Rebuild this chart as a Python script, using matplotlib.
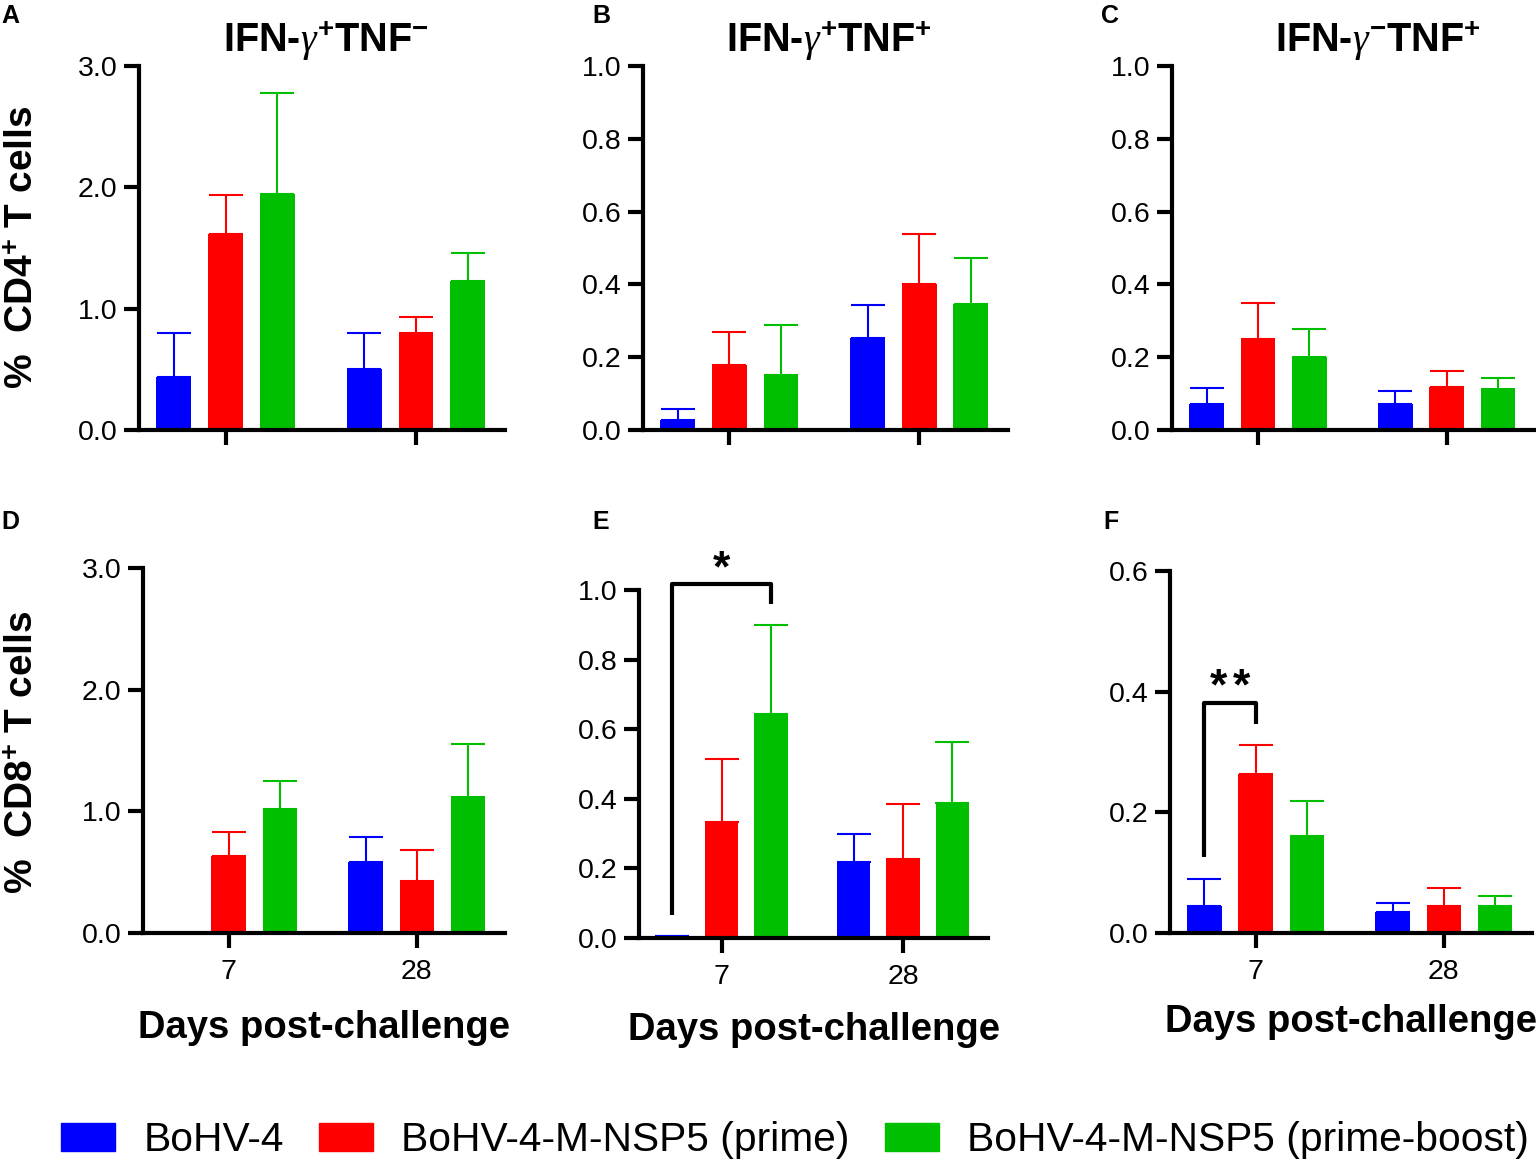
import numpy as np
import matplotlib
matplotlib.use("Agg")
import matplotlib.pyplot as plt
from matplotlib.patches import Patch

plt.rcParams['font.family'] = ['Liberation Sans', 'DejaVu Sans']
plt.rcParams['mathtext.fontset'] = 'custom'
plt.rcParams['mathtext.rm'] = 'Liberation Sans:bold'
plt.rcParams['mathtext.bf'] = 'Liberation Sans:bold'
plt.rcParams['mathtext.it'] = 'Liberation Serif:italic'

## data (rows: BoHV-4, prime, prime-boost ; cols: day 7, day 28)
groups = ["BoHV-4", "BoHV-4-M-NSP5 (prime)", "BoHV-4-M-NSP5 (prime-boost)"]
colors = ["#0000FF", "#FF0000", "#00BF00"]
days = ["7", "28"]

A_mean = [[0.44, 0.50], [1.615, 0.80], [1.945, 1.23]]
A_sem = [[0.36, 0.30], [0.325, 0.13], [0.835, 0.23]]
B_mean = [[0.027, 0.253], [0.179, 0.401], [0.150, 0.346]]
B_sem = [[0.032, 0.091], [0.089, 0.137], [0.138, 0.126]]
C_mean = [[0.071, 0.071], [0.251, 0.119], [0.201, 0.113]]
C_sem = [[0.045, 0.037], [0.099, 0.043], [0.077, 0.031]]
D_mean = [[0.004, 0.58], [0.63, 0.43], [1.023, 1.12]]
D_sem = [[0.0, 0.21], [0.20, 0.256], [0.227, 0.434]]
E_mean = [[0.005, 0.218], [0.333, 0.228], [0.645, 0.387]]
E_sem = [[0.0, 0.082], [0.18, 0.156], [0.255, 0.177]]
F_mean = [[0.044, 0.035], [0.263, 0.044], [0.161, 0.044]]
F_sem = [[0.046, 0.014], [0.049, 0.030], [0.058, 0.018]]

W, H = 1536, 1161
fig = plt.figure(figsize=(W / 100, H / 100), dpi=100)

def add_ax(l, r, b, t):
    return fig.add_axes([l / W, 1 - b / H, (r - l) / W, (b - t) / H])

offset = 0.272
width = 0.183

def bar_panel(ax, means, sems, ymax, ystep, bottom_row, xpad=22):
    x = np.arange(len(days))
    for i in range(len(groups)):
        xs = x + (i - 1) * offset
        ax.bar(xs, means[i], width=width, color=colors[i], zorder=2)
        ax.errorbar(xs, means[i], yerr=[np.zeros(len(days)), sems[i]], fmt='none',
                    ecolor=colors[i], elinewidth=1.5, capsize=12, capthick=1.5, zorder=1)
    ax.set_xlim(-0.455, 1.468)
    ax.set_ylim(0, ymax)
    ticks = np.arange(0, ymax + ystep / 2, ystep)
    ax.set_yticks(ticks)
    ax.set_yticklabels([f"{t:.1f}" for t in ticks])
    ax.set_xticks(x)
    if bottom_row:
        ax.set_xticklabels(days)
        ax.set_xlabel("Days post-challenge", fontsize=27.5, fontweight='bold', labelpad=xpad)
    else:
        ax.set_xticklabels([])
    for s in ["top", "right"]:
        ax.spines[s].set_visible(False)
    for s in ["left", "bottom"]:
        ax.spines[s].set_linewidth(3)
        ax.spines[s].set_zorder(3)
    ax.tick_params(axis='both', width=3, length=10.5, labelsize=20.5, pad=5)
    ax.tick_params(axis='x', pad=8)

axA = add_ax(139, 505, 430, 66)
axB = add_ax(643, 1008, 430, 66)
axC = add_ax(1172, 1535, 430, 66)
axD = add_ax(143, 505, 933, 568)
axE = add_ax(639, 988, 938, 590)
axF = add_ax(1170, 1532, 933, 571)

bar_panel(axA, A_mean, A_sem, 3.0, 1.0, False)
bar_panel(axB, B_mean, B_sem, 1.0, 0.2, False)
bar_panel(axC, C_mean, C_sem, 1.0, 0.2, False)
bar_panel(axD, D_mean, D_sem, 3.0, 1.0, True, 18)
bar_panel(axE, E_mean, E_sem, 1.0, 0.2, True, 16)
bar_panel(axF, F_mean, F_sem, 0.6, 0.2, True, 14)

# significance brackets
axE.plot([-offset, -offset, offset, offset], [0.065, 1.017, 1.017, 0.959],
         color='black', lw=3, clip_on=False, solid_capstyle='butt')
axE.text(0, 1.0, "*", ha='center', va='bottom', fontsize=32, fontweight='bold')
axF.plot([-offset, -offset, 0, 0], [0.126, 0.382, 0.382, 0.347],
         color='black', lw=3, clip_on=False, solid_capstyle='butt')
for sx in [-0.199, -0.077]:
    axF.text(sx, 0.372, "*", ha='center', va='bottom', fontsize=32, fontweight='bold')

# titles
titles = [r"IFN-$\gamma^{+}$TNF$^{-}$", r"IFN-$\gamma^{+}$TNF$^{+}$", r"IFN-$\gamma^{-}$TNF$^{+}$"]
title_x = [326, 829, 1378]
for t, xc in zip(titles, title_x):
    fig.text(xc / W, 1 - 52 / H, t, ha='center', va='baseline', fontsize=28.5, fontweight='bold')

# y labels
fig.text(23 / W, 1 - 247 / H, r"%  CD4$^{+}$ T cells", rotation=90, ha='center', va='center',
         fontsize=28, fontweight='bold')
fig.text(23 / W, 1 - 752 / H, r"%  CD8$^{+}$ T cells", rotation=90, ha='center', va='center',
         fontsize=28, fontweight='bold')

# panel letters
letters = ["A", "B", "C", "D", "E", "F"]
letter_pos = [(1, 16), (592, 16), (1101, 16), (1, 522), (592, 522), (1103, 522)]
for lab, (px, py) in zip(letters, letter_pos):
    fig.text(px / W, 1 - py / H, lab, ha='left', va='center', fontsize=18, fontweight='bold')

# legend
handles = [Patch(color=c) for c in colors]
fig.legend(handles, groups, loc='center', bbox_to_anchor=(795 / W, 1 - 1140 / H), ncol=3,
           frameon=False, fontsize=29.3, handlelength=1.33, handleheight=0.67,
           handletextpad=0.69, columnspacing=0.86, borderaxespad=0)

fig.savefig("out.png", dpi=100)
